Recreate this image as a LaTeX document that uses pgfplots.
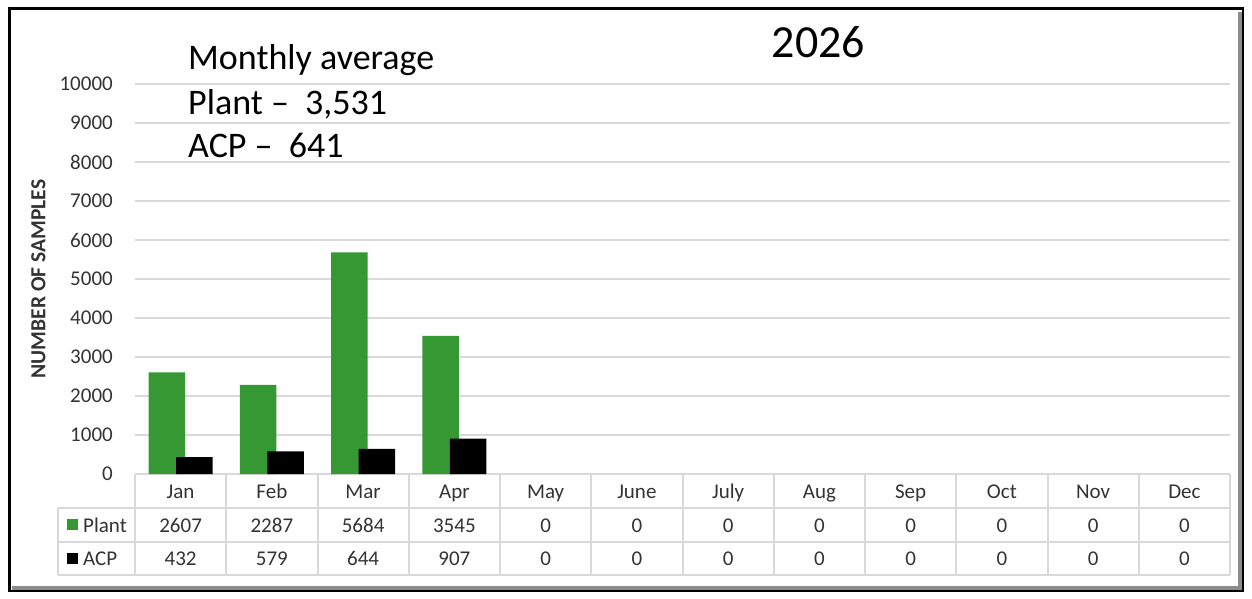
\documentclass[border=0pt]{standalone}
\usepackage{fontspec}
\setmainfont{Carlito}
\usepackage{pgfplots}
\usepackage{pgfplotstable}
\pgfplotsset{compat=1.18}
\definecolor{plantgreen}{RGB}{53,152,51}
\definecolor{gridgray}{RGB}{217,217,217}
\definecolor{txt}{RGB}{51,51,51}
\pgfplotstableread{
x plant acp
0 2607 432
1 2287 579
2 5684 644
3 3545 907
4 0 0
5 0 0
6 0 0
7 0 0
8 0 0
9 0 0
10 0 0
11 0 0
}\data
\begin{document}
\begin{tikzpicture}[x=1bp,y=-1bp]
\useasboundingbox (0,0) rectangle (1252,599);
\fill[white] (0,0) rectangle (1252,599);
% frame with inner shadow
\draw[black!45, line width=4bp] (1239.5,12) -- (1239.5,587.5) -- (12,587.5);
\draw[black, line width=2.5bp] (9.5,8.5) rectangle (1243,591);

\begin{axis}[at={(135bp,-474bp)}, anchor=south west, scale only axis,
  width=1095bp, height=390bp,
  xmin=-0.5, xmax=11.5, ymin=0, ymax=10000,
  axis line style={draw=none},
  xtick=\empty,
  ytick={0,1000,...,10000},
  major tick length=0pt,
  ymajorgrids, grid style={gridgray, line width=2.5bp},
  scaled y ticks=false,
  /pgf/number format/1000 sep={},
  /pgf/number format/assume math mode=true,
  yticklabel style={font=\fontsize{21bp}{24bp}\selectfont, text=txt, anchor=east, inner sep=0pt, xshift=-22bp},
  clip=false,
]
\addplot[ybar, bar width=0.4, bar shift=-0.15, fill=plantgreen, draw=none,
  restrict y to domain=0.5:100000] table[x=x, y=plant] {\data};
\addplot[ybar, bar width=0.4, bar shift=0.15, fill=black, draw=none,
  restrict y to domain=0.5:100000] table[x=x, y=acp] {\data};
\end{axis}

% data table grid
\begin{scope}[gridgray, line width=2bp]
\foreach \k in {0,...,12} \draw ({135+91.25*\k},474) -- ({135+91.25*\k},575);
\draw (58,508) -- (1230,508);
\draw (58,541.5) -- (1230,541.5);
\draw (58,575) -- (1230,575);
\draw (58,508) -- (58,575);
\end{scope}

% table text
\begin{scope}[font=\fontsize{21bp}{24bp}\selectfont, text=txt]
\foreach \m [count=\c from 0] in {Jan,Feb,Mar,Apr,May,June,July,Aug,Sep,Oct,Nov,Dec}
  \node[anchor=base, inner sep=0pt] at ({135+91.25*(\c+0.5)},498) {\m};
\foreach \c in {0,...,11} {
  \pgfplotstablegetelem{\c}{plant}\of\data
  \node[anchor=base, inner sep=0pt] at ({135+91.25*(\c+0.5)},532) {\pgfplotsretval};
  \pgfplotstablegetelem{\c}{acp}\of\data
  \node[anchor=base, inner sep=0pt] at ({135+91.25*(\c+0.5)},565) {\pgfplotsretval};
}
\fill[plantgreen] (67,519) rectangle (78,530);
\fill[black] (67,553) rectangle (78,564);
\node[anchor=base west, inner sep=0pt] at (83,532) {Plant};
\node[anchor=base west, inner sep=0pt] at (83,565) {ACP};
\end{scope}

% y label
\node[rotate=90, inner sep=0pt, text=txt, font=\fontsize{21.5bp}{24bp}\selectfont\bfseries] at (38.5,279) {NUMBER OF SAMPLES};

% title and text box
\node[anchor=base, inner sep=0pt, font=\fontsize{46bp}{50bp}\selectfont] at (818.5,58) {2026};
\begin{scope}[font=\fontsize{36bp}{42bp}\selectfont]
\node[anchor=base west, inner sep=0pt] at (188,70) {Monthly average};
\node[anchor=base west, inner sep=0pt] at (188,115) {Plant –\ \ 3,531};
\node[anchor=base west, inner sep=0pt] at (188,158) {ACP –\ \ 641};
\end{scope}
\end{tikzpicture}
\end{document}
